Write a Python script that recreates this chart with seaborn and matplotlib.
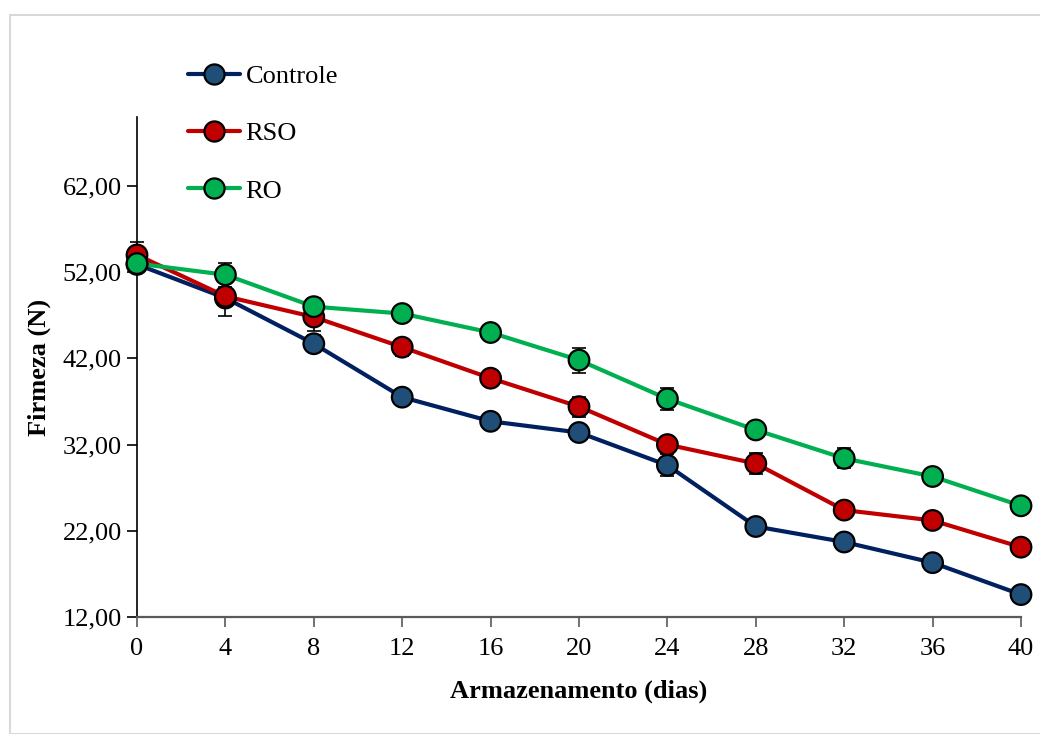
import matplotlib
matplotlib.use("Agg")
import matplotlib.pyplot as plt
from matplotlib.lines import Line2D
from matplotlib.patches import Rectangle
from matplotlib.ticker import FuncFormatter, FixedLocator
import seaborn as sns
import pandas as pd
import numpy as np

dias = [0, 4, 8, 12, 16, 20, 24, 28, 32, 36, 40]
controle = [52.9, 49.0, 43.7, 37.5, 34.7, 33.4, 29.6, 22.5, 20.7, 18.3, 14.6]
rso = [54.0, 49.2, 46.8, 43.3, 39.7, 36.4, 32.0, 29.8, 24.4, 23.2, 20.1]
ro = [53.0, 51.7, 48.0, 47.2, 45.0, 41.8, 37.3, 33.7, 30.4, 28.3, 24.9]
err_controle = [0.3, 2.1, 1.0, 0.3, 0.3, 0.3, 1.3, 0.3, 0.3, 0.3, 0.3]
err_rso = [1.5, 0.5, 1.6, 1.0, 0.3, 1.15, 0.5, 1.25, 0.3, 0.3, 0.3]
err_ro = [0.3, 1.4, 1.0, 0.3, 0.3, 1.45, 1.3, 0.5, 1.15, 0.3, 0.3]
series = ["Controle", "RSO", "RO"]
y_ticks = [12, 22, 32, 42, 52, 62]

line_colors = {"Controle": "#002060", "RSO": "#C00000", "RO": "#00B050"}
face_colors = {"Controle": "#1F4E79", "RSO": "#C00000", "RO": "#00B050"}

df = pd.DataFrame({
    "dia": dias * 3,
    "firmeza": controle + rso + ro,
    "erro": err_controle + err_rso + err_ro,
    "trat": [s for s in series for _ in dias],
})

sns.set_style("white")
plt.rcParams["font.family"] = ["Liberation Serif", "DejaVu Serif"]
plt.rcParams["text.color"] = "black"
plt.rcParams["axes.labelcolor"] = "black"

FS = 19

fig = plt.figure(figsize=(10.40, 7.34), dpi=100)
fig.patches.append(Rectangle((10 / 1040, 0), 1.2, 1 - 15 / 734, transform=fig.transFigure,
                             fill=False, edgecolor="#D9D9D9", linewidth=1.5, zorder=0))
ax = fig.add_axes([137 / 1040, 1 - 617 / 734, (1021 - 137) / 1040, (617 - 117) / 734])

sns.lineplot(data=df, x="dia", y="firmeza", hue="trat", hue_order=series,
             palette=line_colors, linewidth=3, ax=ax, legend=False, zorder=2)
for s in series:
    sub = df[df["trat"] == s]
    ax.errorbar(sub["dia"], sub["firmeza"], yerr=sub["erro"], fmt="none",
                ecolor="black", elinewidth=1.2, capsize=5, capthick=1.2, zorder=3)
sns.scatterplot(data=df, x="dia", y="firmeza", hue="trat", hue_order=series,
                palette=face_colors, s=220, edgecolor="black", linewidth=1.6,
                ax=ax, legend=False, zorder=4)

ax.set_xlim(0, 40)
ax.set_ylim(12, 70)
ax.xaxis.set_major_locator(FixedLocator(dias))
ax.yaxis.set_major_locator(FixedLocator(y_ticks))
ax.yaxis.set_major_formatter(FuncFormatter(lambda v, p: f"{v:.2f}".replace(".", ",")))
ax.tick_params(axis="both", which="major", direction="out", length=7, width=1.2,
               labelsize=FS, colors="black", bottom=True, left=True)
ax.tick_params(axis="x", pad=8, colors="#595959", labelcolor="black")
ax.tick_params(axis="y", pad=4)
for side in ["top", "right"]:
    ax.spines[side].set_visible(False)
ax.spines["left"].set_color("black")
ax.spines["left"].set_linewidth(1.2)
ax.spines["bottom"].set_color("#595959")
ax.spines["bottom"].set_linewidth(1.6)
for c in ax.collections + ax.lines:
    c.set_clip_on(False)

ax.set_xlabel("Armazenamento (dias)", fontsize=FS, fontweight="bold", labelpad=14)
ax.set_ylabel("Firmeza (N)", fontsize=FS, fontweight="bold", labelpad=8)

handles = [Line2D([0], [0], color=line_colors[s], linewidth=3, marker="o",
                  markersize=14.5, markerfacecolor=face_colors[s],
                  markeredgecolor="black", markeredgewidth=1.6) for s in series]
fig.legend(handles, series, loc="upper left", bbox_to_anchor=(177 / 1040, 1 - 54 / 734),
           frameon=False, fontsize=FS, labelspacing=1.28, handlelength=2.0,
           handletextpad=0.2, borderaxespad=0, labelcolor="black")

fig.savefig("out.png", dpi=100)
